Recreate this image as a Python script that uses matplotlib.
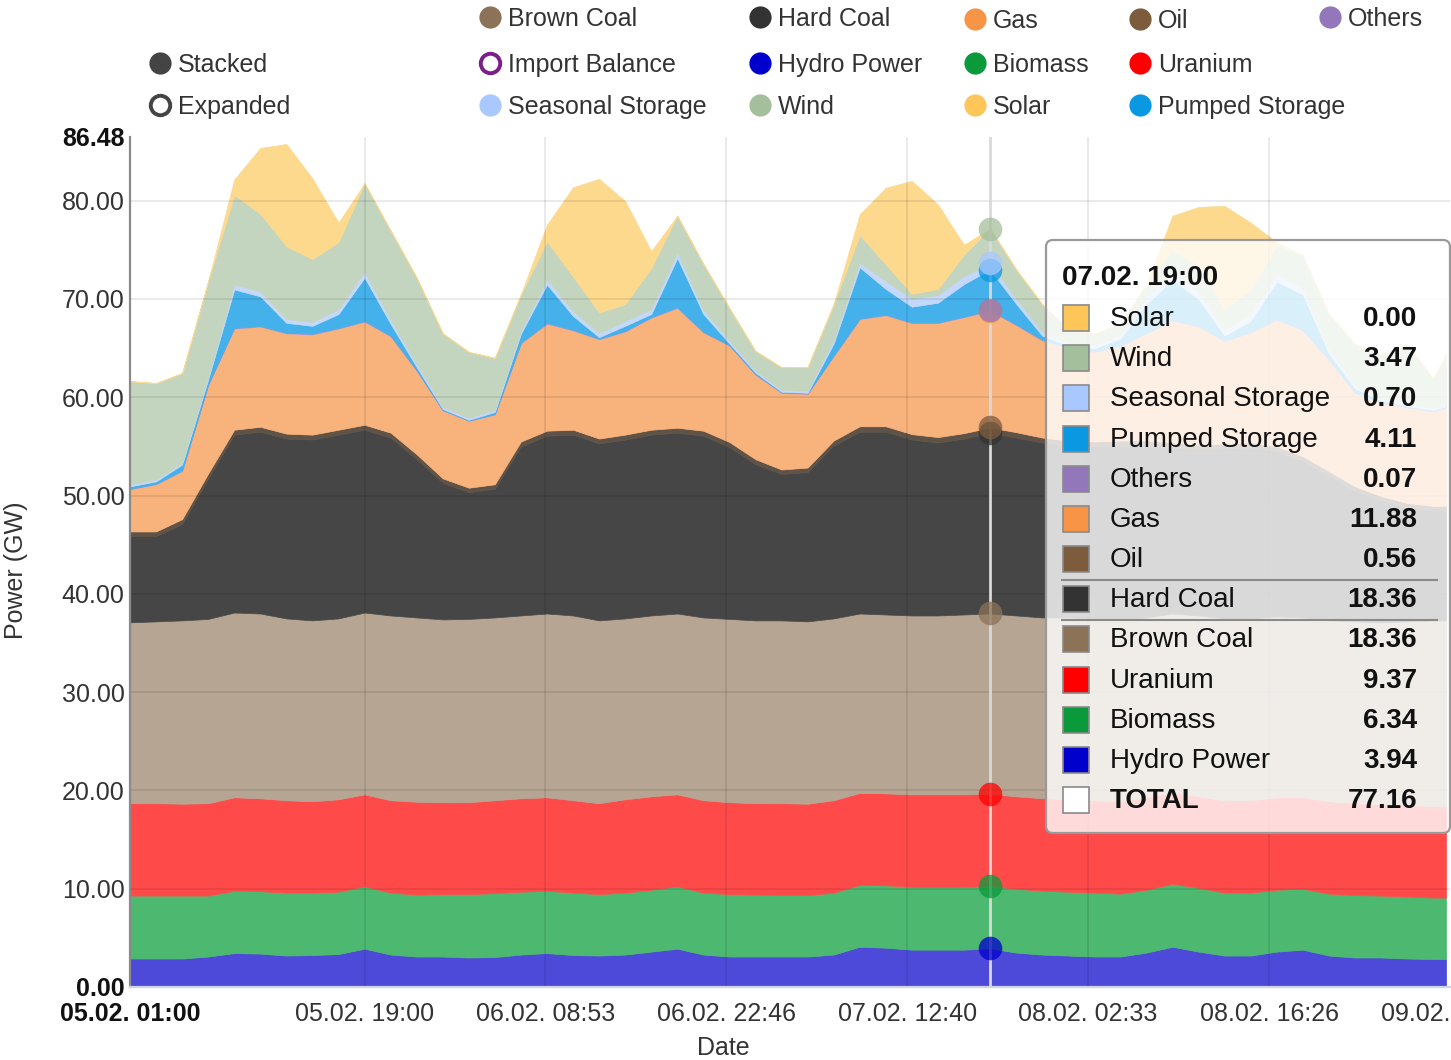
import numpy as np
import matplotlib
matplotlib.use("Agg")
import matplotlib.pyplot as plt
from matplotlib.patches import FancyBboxPatch, Rectangle

plt.rcParams['font.family'] = ['Liberation Sans', 'DejaVu Sans']

# ---------------- data (hours after 05.02. 01:00) ----------------
hours = list(range(0, 101, 2)) + [101]

hydro = [2.9, 2.9, 2.9, 3.1, 3.45, 3.4, 3.2, 3.25, 3.35, 3.9,
         3.3, 3.1, 3.1, 3.0, 3.05, 3.3, 3.45, 3.25, 3.2, 3.3,
         3.6, 3.9, 3.3, 3.1, 3.1, 3.1, 3.1, 3.3, 4.1, 4.0,
         3.8, 3.8, 3.8, 3.94, 3.5, 3.3, 3.2, 3.1, 3.1, 3.5,
         4.1, 3.6, 3.2, 3.2, 3.6, 3.8, 3.2, 3.0, 3.0, 2.9,
         2.85, 2.85]
biomass = [6.4, 6.4, 6.4, 6.2, 6.35, 6.35, 6.4, 6.35, 6.35, 6.35,
           6.3, 6.3, 6.35, 6.45, 6.5, 6.4, 6.35, 6.35, 6.25, 6.3,
           6.3, 6.35, 6.3, 6.35, 6.3, 6.25, 6.25, 6.3, 6.3, 6.35,
           6.4, 6.4, 6.4, 6.34, 6.5, 6.5, 6.5, 6.5, 6.4, 6.4,
           6.4, 6.5, 6.4, 6.4, 6.3, 6.2, 6.3, 6.35, 6.3, 6.3,
           6.25, 6.25]
uranium = [9.4, 9.4, 9.35, 9.4, 9.5, 9.45, 9.4, 9.3, 9.4, 9.35,
           9.4, 9.45, 9.35, 9.35, 9.45, 9.5, 9.5, 9.4, 9.25, 9.5,
           9.5, 9.35, 9.4, 9.35, 9.3, 9.35, 9.3, 9.4, 9.35, 9.35,
           9.4, 9.4, 9.4, 9.37, 9.4, 9.4, 9.4, 9.4, 9.4, 9.4,
           9.3, 9.3, 9.4, 9.4, 9.4, 9.3, 9.4, 9.35, 9.3, 9.3,
           9.3, 9.3]
brown_coal = [18.4, 18.5, 18.65, 18.75, 18.8, 18.8, 18.5, 18.4, 18.4, 18.5,
              18.8, 18.75, 18.6, 18.65, 18.6, 18.6, 18.7, 18.8, 18.6, 18.4,
              18.4, 18.4, 18.6, 18.65, 18.6, 18.6, 18.55, 18.5, 18.25, 18.2,
              18.2, 18.2, 18.3, 18.36, 18.4, 18.4, 18.5, 18.5, 18.5, 18.3,
              18.2, 18.4, 18.5, 18.5, 18.4, 18.3, 18.4, 18.5, 18.5, 18.7,
              18.9, 18.9]
hard_coal = [8.8, 8.7, 9.8, 14.3, 18.1, 18.5, 18.3, 18.4, 18.7, 18.6,
             18.1, 16.1, 13.9, 12.9, 13.1, 17.2, 18.1, 18.4, 18.0, 18.2,
             18.4, 18.4, 18.5, 17.5, 15.9, 14.9, 15.2, 17.6, 18.5, 18.6,
             17.9, 17.6, 17.9, 18.36, 18.1, 17.8, 17.5, 17.5, 17.7, 17.5,
             16.9, 16.9, 17.3, 17.4, 16.8, 15.9, 14.7, 13.3, 12.4, 11.6,
             11.2, 11.2]
oil = [0.45, 0.45, 0.5, 0.5, 0.5, 0.5, 0.5, 0.5, 0.5, 0.5,
       0.5, 0.5, 0.45, 0.45, 0.45, 0.5, 0.5, 0.5, 0.5, 0.5,
       0.5, 0.5, 0.5, 0.5, 0.5, 0.45, 0.45, 0.5, 0.55, 0.55,
       0.55, 0.55, 0.55, 0.56, 0.55, 0.5, 0.5, 0.5, 0.5, 0.5,
       0.5, 0.5, 0.5, 0.5, 0.5, 0.5, 0.5, 0.45, 0.45, 0.45,
       0.45, 0.45]
gas = [4.3, 4.8, 4.9, 9.0, 10.3, 10.2, 10.2, 10.2, 10.3, 10.5,
       9.8, 8.5, 6.9, 6.8, 7.1, 10.0, 10.9, 10.1, 10.1, 10.5,
       11.4, 12.2, 10.0, 9.8, 8.6, 7.8, 7.5, 8.6, 10.9, 11.3,
       11.3, 11.6, 11.8, 11.88, 10.9, 9.9, 9.4, 9.1, 9.6, 10.9,
       12.4, 12.0, 10.4, 11.2, 12.9, 12.8, 11.3, 9.5, 9.5, 9.7,
       9.6, 10.0]
others = [0.06, 0.06, 0.06, 0.07, 0.07, 0.07, 0.07, 0.07, 0.07, 0.07,
          0.07, 0.07, 0.06, 0.06, 0.06, 0.07, 0.07, 0.07, 0.07, 0.07,
          0.07, 0.07, 0.07, 0.07, 0.06, 0.06, 0.06, 0.07, 0.07, 0.07,
          0.07, 0.07, 0.07, 0.07, 0.07, 0.07, 0.07, 0.07, 0.07, 0.07,
          0.07, 0.07, 0.07, 0.07, 0.07, 0.07, 0.07, 0.06, 0.06, 0.06,
          0.06, 0.06]
pumped_storage = [0.23, 0.23, 0.6, 0.5, 3.9, 3.0, 1.0, 0.8, 1.4, 4.4,
                  1.2, 0.3, 0.1, 0.05, 0.2, 0.9, 3.9, 1.4, 0.15, 0.5,
                  0.3, 5.0, 1.8, 0.15, 0.15, 0.05, 0.05, 1.2, 5.2, 2.6,
                  1.6, 2.0, 3.3, 4.11, 2.1, 0.4, 0.2, 0.3, 0.7, 2.9,
                  4.1, 2.7, 0.5, 1.1, 3.8, 3.6, 0.6, 0.4, 0.2, 0.1,
                  0.1, 0.1]
seasonal_storage = [0.2, 0.2, 0.2, 0.3, 0.5, 0.5, 0.4, 0.4, 0.5, 0.6,
                    0.4, 0.3, 0.2, 0.2, 0.2, 0.3, 0.5, 0.5, 0.4, 0.5,
                    0.5, 0.6, 0.4, 0.3, 0.2, 0.2, 0.2, 0.4, 0.5, 0.8,
                    0.8, 0.8, 0.8, 0.70, 0.5, 0.4, 0.3, 0.3, 0.4, 0.6,
                    0.8, 0.8, 0.6, 0.7, 0.8, 0.6, 0.4, 0.3, 0.2, 0.2,
                    0.2, 0.2]
wind = [10.5, 9.8, 9.1, 9.7, 9.1, 7.9, 7.4, 6.4, 6.8, 9.0,
        9.1, 8.8, 7.5, 6.7, 5.3, 3.7, 3.9, 3.5, 2.1, 1.7,
        4.2, 3.7, 4.7, 3.3, 2.0, 2.3, 2.4, 3.6, 2.8, 1.7,
        0.5, 0.6, 2.2, 3.47, 3.0, 2.8, 1.4, 1.2, 1.1, 1.4,
        2.2, 2.7, 2.1, 2.5, 2.9, 3.4, 3.6, 4.2, 4.5, 6.1,
        3.0, 5.1]
solar = [0, 0, 0, 0, 1.6, 6.7, 10.4, 8.2, 2.0, 0,
         0, 0, 0, 0, 0, 0, 1.7, 9.1, 13.6, 10.5,
         1.7, 0, 0, 0, 0, 0, 0, 0, 2.1, 7.8,
         11.5, 8.6, 1.0, 0.0, 0, 0, 0, 0, 0, 0,
         3.5, 5.9, 10.5, 6.8, 0.3, 0, 0, 0, 0, 0,
         0, 0]

series_names = ['Hydro Power', 'Biomass', 'Uranium', 'Brown Coal', 'Hard Coal', 'Oil',
                'Gas', 'Others', 'Pumped Storage', 'Seasonal Storage', 'Wind', 'Solar']
series_values = [hydro, biomass, uranium, brown_coal, hard_coal, oil,
                 gas, others, pumped_storage, seasonal_storage, wind, solar]

xtick_hours = [0, 18, 31.883, 45.767, 59.65, 73.533, 87.417, 101.3]
xtick_labels = ['05.02. 01:00', '05.02. 19:00', '06.02. 08:53', '06.02. 22:46',
                '07.02. 12:40', '08.02. 02:33', '08.02. 16:26', '09.02.']
ytick_values = [0, 10, 20, 30, 40, 50, 60, 70, 80, 86.48]
hover_hour = 66
hover_label = '07.02. 19:00'

# ---------------- styles ----------------
base_colors = {
    'Hydro Power': '#0000cc', 'Biomass': '#0a9a3c', 'Uranium': '#ff0000',
    'Brown Coal': '#8c7358', 'Hard Coal': '#333333', 'Oil': '#7d5c3d',
    'Gas': '#f79446', 'Others': '#9277bb', 'Pumped Storage': '#0a98e2',
    'Seasonal Storage': '#a9c8ff', 'Wind': '#a3bf9b', 'Solar': '#fec658',
    'Stacked': '#444444', 'Import Balance': '#7a1f8a', 'Expanded': '#444444'}
area_colors = {
    'Hydro Power': '#4d4ad9', 'Biomass': '#4db870', 'Uranium': '#ff4a4a',
    'Brown Coal': '#b5a592', 'Hard Coal': '#464646', 'Oil': '#5f5246',
    'Gas': '#f8b27c', 'Others': '#ab98cc', 'Pumped Storage': '#44b1ea',
    'Seasonal Storage': '#c4d8fb', 'Wind': '#c3d5be', 'Solar': '#fdd98e'}
txt = '#333333'

W, H = 1451, 1060
fig = plt.figure(figsize=(W / 100, H / 100), dpi=100)
fig.patch.set_facecolor('white')


def fx(px):
    return px / W


def fy(py):
    return 1 - py / H


ax = fig.add_axes([fx(130), fy(987), (1450 - 130) / W, (987 - 137) / H])
ax.stackplot(hours, *series_values, colors=[area_colors[n] for n in series_names],
             linewidth=0.5, edgecolor='face', zorder=1)
ax.set_xlim(0, xtick_hours[-1])
ax.set_ylim(0, ytick_values[-1])

# grid drawn on top, semi-transparent
for v in ytick_values[1:-1]:
    ax.axhline(v, color='black', alpha=0.09, lw=1.3, zorder=2)
for h in xtick_hours[1:-1]:
    ax.axvline(h, color='black', alpha=0.09, lw=1.3, zorder=2)

for s in ['top', 'right']:
    ax.spines[s].set_visible(False)
ax.spines['left'].set_color('#8a8a8a')
ax.spines['left'].set_linewidth(1.6)
ax.spines['bottom'].set_color('#ccd6eb')
ax.spines['bottom'].set_linewidth(1.6)

ax.set_yticks(ytick_values)
ax.set_yticklabels(['%.2f' % v for v in ytick_values])
ax.set_xticks(xtick_hours)
ax.set_xticklabels(xtick_labels)
ax.tick_params(axis='both', length=0, labelsize=18, labelcolor=txt)
ax.tick_params(axis='y', pad=4)
ax.tick_params(axis='x', pad=11)
for lab in (ax.get_yticklabels()[0], ax.get_yticklabels()[-1], ax.get_xticklabels()[0]):
    lab.set_fontweight('bold')
    lab.set_color('#111111')
ax.get_xticklabels()[-1].set_horizontalalignment('right')

# crosshair and hover markers
ax.axvline(hover_hour, color='#d9d9d9', lw=2, zorder=3)
hi = hours.index(hover_hour)
cum = np.cumsum([vals[hi] for vals in series_values])
for name, vals, top in zip(series_names, series_values, cum):
    if vals[hi] > 0:
        ax.plot([hover_hour], [top], 'o', ms=17, color=base_colors[name], alpha=0.75,
                mec='none', zorder=4, clip_on=False)

# axis titles
fig.text(fx(16), fy(570), 'Power (GW)', rotation=90, ha='center', va='center',
         fontsize=18, color=txt)
fig.text(fx(723), fy(1048), 'Date', ha='center', va='center', fontsize=18, color=txt)

# overlay in pixel coordinates for legend & tooltip
ov = fig.add_axes([0, 0, 1, 1], zorder=10)
ov.set_xlim(0, W)
ov.set_ylim(H, 0)
ov.axis('off')

legend_items = [
    ('Brown Coal', 490, 17, 'fill'), ('Hard Coal', 760, 17, 'fill'), ('Gas', 975, 19, 'fill'),
    ('Oil', 1140, 19, 'fill'), ('Others', 1330, 17, 'fill'),
    ('Stacked', 160, 63, 'fill'), ('Import Balance', 490, 63, 'hollow'),
    ('Hydro Power', 760, 63, 'fill'), ('Biomass', 975, 63, 'fill'), ('Uranium', 1140, 63, 'fill'),
    ('Expanded', 160, 105, 'hollow'), ('Seasonal Storage', 490, 105, 'fill'),
    ('Wind', 760, 105, 'fill'), ('Solar', 975, 105, 'fill'), ('Pumped Storage', 1140, 105, 'fill')]
for name, x, y, kind in legend_items:
    c = base_colors[name]
    if kind == 'fill':
        ov.plot([x], [y], 'o', ms=16, color=c, mec='none')
    else:
        ov.plot([x], [y], 'o', ms=14, mfc='white', mec=c, mew=2.8)
    ov.text(x + 18, y + 2, name, ha='left', va='center', fontsize=18, color=txt)

# tooltip
box = FancyBboxPatch((1046, 240), 404, 593, boxstyle='round,pad=0,rounding_size=7',
                     fc=(1, 1, 1, 0.8), ec='#9a9a9a', lw=1.6)
ov.add_patch(box)
ov.text(1062, 278, hover_label, ha='left', va='center', fontsize=20,
        fontweight='bold', color='#111111')
rows = list(zip(series_names, [vals[hi] for vals in series_values]))[::-1]
rows.append(('TOTAL', sum(vals[hi] for vals in series_values)))
for i, (name, val) in enumerate(rows):
    y = 318 + 40.17 * i
    sw = 'white' if name == 'TOTAL' else base_colors[name]
    ov.add_patch(Rectangle((1063, y - 13), 26, 26, fc=sw, ec='#8a8a8a', lw=1.2))
    ov.text(1110, y + 1, name, ha='left', va='center', fontsize=20, color='#111111',
            fontweight='bold' if name == 'TOTAL' else 'normal')
    ov.text(1417, y + 1, '%.2f' % val, ha='right', va='center', fontsize=20,
            fontweight='bold', color='#111111')
    if name == 'Hard Coal':
        for yy in (y - 19, y + 21):
            ov.plot([1062, 1437], [yy, yy], color='#8a8a8a', lw=1.5)

fig.savefig('out.png', dpi=100, facecolor='white')
